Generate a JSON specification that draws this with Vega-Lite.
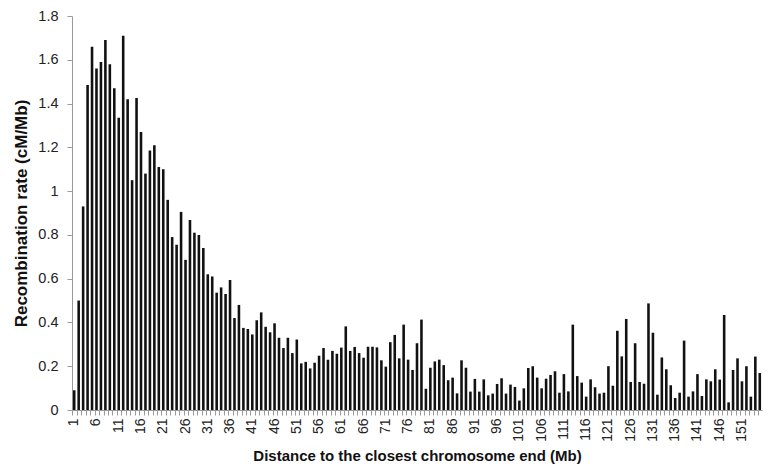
{
  "$schema": "https://vega.github.io/schema/vega-lite/v6.json",
  "autosize": "none",
  "width": 690,
  "height": 394,
  "padding": {"left": 72, "top": 16, "right": 8, "bottom": 57},
  "background": "white",
  "config": {"view": {"stroke": null}, "font": "Liberation Sans"},
  "data": {"values": [
    {"d":1,"r":0.09},{"d":2,"r":0.50},{"d":3,"r":0.93},{"d":4,"r":1.485},{"d":5,"r":1.66},
    {"d":6,"r":1.56},{"d":7,"r":1.59},{"d":8,"r":1.69},{"d":9,"r":1.58},{"d":10,"r":1.47},
    {"d":11,"r":1.335},{"d":12,"r":1.71},{"d":13,"r":1.42},{"d":14,"r":1.05},{"d":15,"r":1.425},
    {"d":16,"r":1.27},{"d":17,"r":1.08},{"d":18,"r":1.186},{"d":19,"r":1.21},{"d":20,"r":1.11},
    {"d":21,"r":1.10},{"d":22,"r":0.96},{"d":23,"r":0.79},{"d":24,"r":0.755},{"d":25,"r":0.905},
    {"d":26,"r":0.686},{"d":27,"r":0.868},{"d":28,"r":0.81},{"d":29,"r":0.80},{"d":30,"r":0.74},
    {"d":31,"r":0.62},{"d":32,"r":0.61},{"d":33,"r":0.536},{"d":34,"r":0.56},{"d":35,"r":0.53},
    {"d":36,"r":0.594},{"d":37,"r":0.42},{"d":38,"r":0.48},{"d":39,"r":0.375},{"d":40,"r":0.37},
    {"d":41,"r":0.345},{"d":42,"r":0.41},{"d":43,"r":0.446},{"d":44,"r":0.38},{"d":45,"r":0.355},
    {"d":46,"r":0.396},{"d":47,"r":0.33},{"d":48,"r":0.283},{"d":49,"r":0.33},{"d":50,"r":0.26},
    {"d":51,"r":0.322},{"d":52,"r":0.213},{"d":53,"r":0.22},{"d":54,"r":0.19},{"d":55,"r":0.216},
    {"d":56,"r":0.248},{"d":57,"r":0.283},{"d":58,"r":0.23},{"d":59,"r":0.27},{"d":60,"r":0.257},
    {"d":61,"r":0.285},{"d":62,"r":0.382},{"d":63,"r":0.27},{"d":64,"r":0.288},{"d":65,"r":0.26},
    {"d":66,"r":0.239},{"d":67,"r":0.289},{"d":68,"r":0.289},{"d":69,"r":0.286},{"d":70,"r":0.227},
    {"d":71,"r":0.198},{"d":72,"r":0.31},{"d":73,"r":0.343},{"d":74,"r":0.236},{"d":75,"r":0.39},
    {"d":76,"r":0.23},{"d":77,"r":0.183},{"d":78,"r":0.305},{"d":79,"r":0.413},{"d":80,"r":0.097},
    {"d":81,"r":0.193},{"d":82,"r":0.222},{"d":83,"r":0.23},{"d":84,"r":0.205},{"d":85,"r":0.136},
    {"d":86,"r":0.148},{"d":87,"r":0.076},{"d":88,"r":0.227},{"d":89,"r":0.193},{"d":90,"r":0.084},
    {"d":91,"r":0.142},{"d":92,"r":0.084},{"d":93,"r":0.14},{"d":94,"r":0.067},{"d":95,"r":0.075},
    {"d":96,"r":0.119},{"d":97,"r":0.145},{"d":98,"r":0.075},{"d":99,"r":0.116},{"d":100,"r":0.105},
    {"d":101,"r":0.043},{"d":102,"r":0.099},{"d":103,"r":0.192},{"d":104,"r":0.2},{"d":105,"r":0.148},
    {"d":106,"r":0.099},{"d":107,"r":0.143},{"d":108,"r":0.16},{"d":109,"r":0.177},{"d":110,"r":0.079},
    {"d":111,"r":0.164},{"d":112,"r":0.085},{"d":113,"r":0.39},{"d":114,"r":0.155},{"d":115,"r":0.125},
    {"d":116,"r":0.061},{"d":117,"r":0.14},{"d":118,"r":0.104},{"d":119,"r":0.075},{"d":120,"r":0.079},
    {"d":121,"r":0.2},{"d":122,"r":0.111},{"d":123,"r":0.362},{"d":124,"r":0.245},{"d":125,"r":0.416},
    {"d":126,"r":0.128},{"d":127,"r":0.305},{"d":128,"r":0.128},{"d":129,"r":0.12},{"d":130,"r":0.487},
    {"d":131,"r":0.353},{"d":132,"r":0.07},{"d":133,"r":0.24},{"d":134,"r":0.186},{"d":135,"r":0.113},
    {"d":136,"r":0.055},{"d":137,"r":0.079},{"d":138,"r":0.317},{"d":139,"r":0.061},{"d":140,"r":0.085},
    {"d":141,"r":0.164},{"d":142,"r":0.064},{"d":143,"r":0.14},{"d":144,"r":0.131},{"d":145,"r":0.186},
    {"d":146,"r":0.139},{"d":147,"r":0.434},{"d":148,"r":0.035},{"d":149,"r":0.183},{"d":150,"r":0.236},
    {"d":151,"r":0.131},{"d":152,"r":0.2},{"d":153,"r":0.061},{"d":154,"r":0.244},{"d":155,"r":0.169}
  ]},
  "mark": {"type": "bar", "color": "#111111"},
  "encoding": {
    "x": {
      "field": "d", "type": "ordinal",
      "scale": {"paddingInner": 0.42, "paddingOuter": 0.21},
      "axis": {
        "title": "Distance to the closest chromosome end (Mb)",
        "titleFont": "Liberation Sans", "titleFontSize": 15, "titleFontWeight": "bold", "titleColor": "#111",
        "titlePadding": 7,
        "labelExpr": "datum.value % 5 == 1 ? datum.label : ''",
        "labelAngle": -90, "labelFontSize": 14, "labelColor": "#222", "labelPadding": 3,
        "labelOverlap": false,
        "bandPosition": 0, "tickSize": 5, "tickColor": "#9a9a9a", "domainColor": "#9a9a9a"
      }
    },
    "y": {
      "field": "r", "type": "quantitative",
      "scale": {"domain": [0, 1.8], "nice": false},
      "axis": {
        "title": "Recombination rate (cM/Mb)",
        "titleFont": "Liberation Sans", "titleFontSize": 17, "titleFontWeight": "bold", "titleColor": "#111",
        "titlePadding": 7,
        "values": [0, 0.2, 0.4, 0.6, 0.8, 1, 1.2, 1.4, 1.6, 1.8],
        "format": ".1~f",
        "labelFontSize": 14.5, "labelColor": "#222", "labelPadding": 9,
        "grid": false, "tickSize": 5, "tickColor": "#9a9a9a", "domainColor": "#9a9a9a"
      }
    }
  }
}
